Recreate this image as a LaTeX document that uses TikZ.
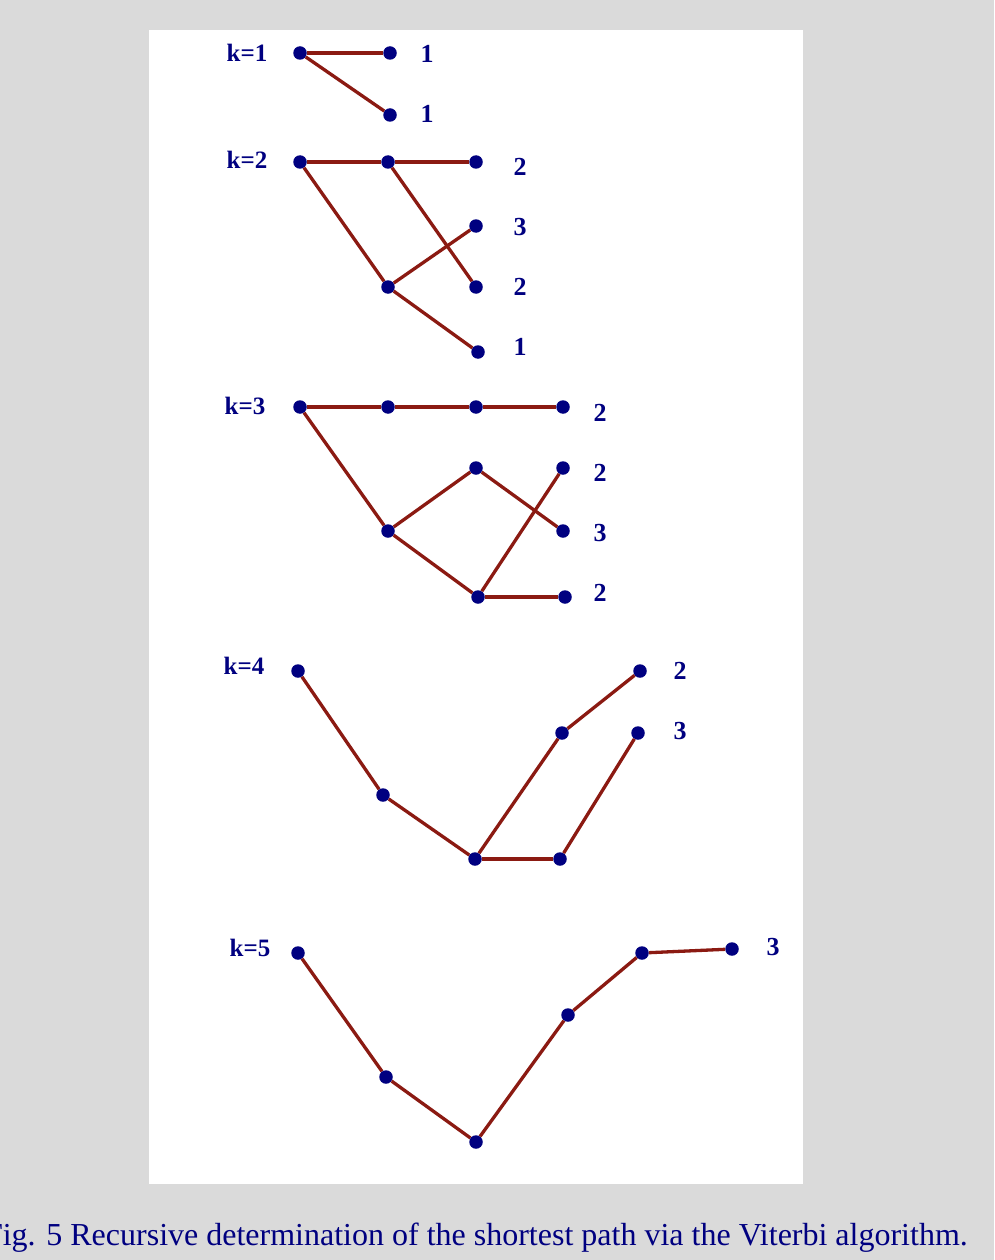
\documentclass[tikz,border=0pt]{standalone}
\usepackage{fontspec}
\setmainfont{Liberation Serif}
\definecolor{navy}{HTML}{000080}
\definecolor{wire}{HTML}{8B1A12}
\definecolor{bggray}{HTML}{DADADA}
\tikzset{
  dot/.style={circle, fill=navy, draw=none, inner sep=0pt, minimum size=13.5pt},
  edge/.style={draw=wire, line width=3.3pt},
  klabel/.style={text=navy, font=\fontsize{25}{25}\selectfont\bfseries, inner sep=0pt},
  cost/.style={text=navy, font=\fontsize{26}{26}\selectfont\bfseries, inner sep=0pt},
}
\begin{document}
\begin{tikzpicture}[x=1pt, y=-1pt]
\useasboundingbox (0,0) rectangle (994,1260);
\clip (0,0) rectangle (994,1260);
\fill[bggray] (0,0) rectangle (994,1260);
\fill[white] (149,30) rectangle (803,1184);

% k=1
\node[klabel] (k1) at (247,53) {k=1};
\node[dot] (p1) at (300,53) {};
\node[dot] (p2) at (390,53) {};
\node[dot] (p3) at (390,115) {};
\draw[edge] (p1) -- (p2);
\draw[edge] (p1) -- (p3);
\node[cost] (c11) at (427,54) {1};
\node[cost] (c12) at (427,114) {1};

% k=2
\node[klabel] (k2) at (247,160) {k=2};
\node[dot] (q1) at (300,162) {};
\node[dot] (q2) at (388,162) {};
\node[dot] (q3) at (476,162) {};
\node[dot] (q4) at (388,287) {};
\node[dot] (q5) at (476,226) {};
\node[dot] (q6) at (476,287) {};
\node[dot] (q7) at (478,352) {};
\draw[edge] (q1) -- (q2);
\draw[edge] (q2) -- (q3);
\draw[edge] (q1) -- (q4);
\draw[edge] (q2) -- (q6);
\draw[edge] (q4) -- (q5);
\draw[edge] (q4) -- (q7);
\node[cost] (c21) at (520,167) {2};
\node[cost] (c22) at (520,227) {3};
\node[cost] (c23) at (520,287) {2};
\node[cost] (c24) at (520,347) {1};

% k=3
\node[klabel] (k3) at (245,406) {k=3};
\node[dot] (r1) at (300,407) {};
\node[dot] (r2) at (388,407) {};
\node[dot] (r3) at (476,407) {};
\node[dot] (r4) at (563,407) {};
\node[dot] (r5) at (388,531) {};
\node[dot] (r6) at (476,468) {};
\node[dot] (r7) at (563,468) {};
\node[dot] (r8) at (563,531) {};
\node[dot] (r9) at (478,597) {};
\node[dot] (r10) at (565,597) {};
\draw[edge] (r1) -- (r2);
\draw[edge] (r2) -- (r3);
\draw[edge] (r3) -- (r4);
\draw[edge] (r1) -- (r5);
\draw[edge] (r5) -- (r6);
\draw[edge] (r6) -- (r8);
\draw[edge] (r5) -- (r9);
\draw[edge] (r9) -- (r7);
\draw[edge] (r9) -- (r10);
\node[cost] (c31) at (600,413) {2};
\node[cost] (c32) at (600,473) {2};
\node[cost] (c33) at (600,533) {3};
\node[cost] (c34) at (600,593) {2};

% k=4
\node[klabel] (k4) at (244,666) {k=4};
\node[dot] (s1) at (298,671) {};
\node[dot] (s2) at (383,795) {};
\node[dot] (s3) at (475,859) {};
\node[dot] (s4) at (562,733) {};
\node[dot] (s5) at (640,671) {};
\node[dot] (s6) at (560,859) {};
\node[dot] (s7) at (638,733) {};
\draw[edge] (s1) -- (s2);
\draw[edge] (s2) -- (s3);
\draw[edge] (s3) -- (s4);
\draw[edge] (s4) -- (s5);
\draw[edge] (s3) -- (s6);
\draw[edge] (s6) -- (s7);
\node[cost] (c41) at (680,671) {2};
\node[cost] (c42) at (680,731) {3};

% k=5
\node[klabel] (k5) at (250,948) {k=5};
\node[dot] (t1) at (298,953) {};
\node[dot] (t2) at (386,1077) {};
\node[dot] (t3) at (476,1142) {};
\node[dot] (t4) at (568,1015) {};
\node[dot] (t5) at (642,953) {};
\node[dot] (t6) at (732,949) {};
\draw[edge] (t1) -- (t2);
\draw[edge] (t2) -- (t3);
\draw[edge] (t3) -- (t4);
\draw[edge] (t4) -- (t5);
\draw[edge] (t5) -- (t6);
\node[cost] (c51) at (773,947) {3};

% caption (cut at the left edge, as in the reference)
\node[anchor=base east, text=navy, font=\fontsize{32}{32}\selectfont, inner sep=0pt] (cap) at (968,1245)
  {Fig. 5 Recursive determination of the shortest path via the Viterbi algorithm.};
\end{tikzpicture}
\end{document}
